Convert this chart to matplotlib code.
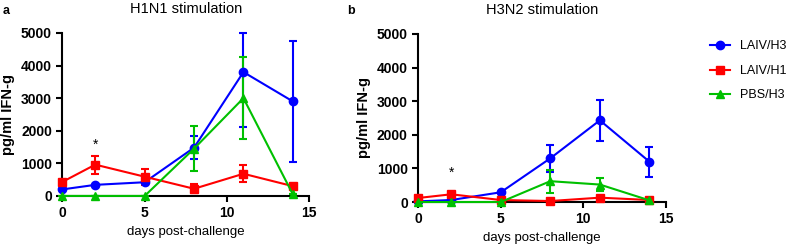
import numpy as np
import matplotlib.pyplot as plt
from matplotlib.lines import Line2D

plt.rcParams['font.family'] = ['Liberation Sans', 'DejaVu Sans']

days = [0, 2, 5, 8, 11, 14]

# panel a: H1N1 stimulation
a_h3 = [200, 340, 420, 1480, 3800, 2900]
a_h3_lo = [200, 340, 420, 1130, 2100, 1050]
a_h3_hi = [200, 340, 420, 1850, 5000, 4750]
a_h1 = [430, 960, 590, 220, 680, 300]
a_h1_lo = [430, 680, 350, 80, 420, 200]
a_h1_hi = [430, 1240, 830, 360, 950, 380]
a_pbs = [0, 0, 0, 1450, 3000, 50]
a_pbs_lo = [0, 0, 0, 760, 1750, 50]
a_pbs_hi = [0, 0, 0, 2150, 4250, 50]

# panel b: H3N2 stimulation
b_h3 = [20, 60, 290, 1300, 2430, 1200]
b_h3_lo = [20, 60, 290, 900, 1820, 750]
b_h3_hi = [20, 60, 290, 1700, 3040, 1650]
b_h1 = [120, 230, 60, 30, 130, 60]
b_h1_lo = [120, 230, 60, 30, 130, 60]
b_h1_hi = [120, 230, 60, 30, 130, 60]
b_pbs = [0, 0, 0, 620, 520, 50]
b_pbs_lo = [0, 0, 0, 270, 320, 50]
b_pbs_hi = [0, 0, 0, 960, 720, 50]

labels = ['LAIV/H3', 'LAIV/H1', 'PBS/H3']
colors = ['#0000ff', '#ff0000', '#00c000']
markers = ['o', 's', '^']

fig = plt.figure(figsize=(7.89, 2.44), dpi=100)
ax_a = fig.add_axes([0.079, 0.197, 0.313, 0.668])
ax_b = fig.add_axes([0.530, 0.172, 0.314, 0.689])

panels = [
    (ax_a, [(a_h3, a_h3_lo, a_h3_hi), (a_h1, a_h1_lo, a_h1_hi), (a_pbs, a_pbs_lo, a_pbs_hi)],
     'H1N1 stimulation', 1350),
    (ax_b, [(b_h3, b_h3_lo, b_h3_hi), (b_h1, b_h1_lo, b_h1_hi), (b_pbs, b_pbs_lo, b_pbs_hi)],
     'H3N2 stimulation', 650),
]

for ax, series, title, star_y in panels:
    for (y, lo, hi), c, m, lab in zip(series, colors, markers, labels):
        y = np.array(y)
        yerr = [y - np.array(lo), np.array(hi) - y]
        h = ax.errorbar(days, y, yerr=yerr, color=c, marker=m, markersize=6,
                        lw=1.5, capsize=3, capthick=1.5, elinewidth=1.5,
                        label=lab, clip_on=False, zorder=3)
        for art in h.lines[1] + h.lines[2]:
            art.set_clip_on(False)
    ax.set_xlim(0, 15)
    ax.set_ylim(0, 5000)
    ax.set_xticks([0, 5, 10, 15])
    ax.set_yticks([0, 1000, 2000, 3000, 4000, 5000])
    ax.spines['top'].set_visible(False)
    ax.spines['right'].set_visible(False)
    ax.spines['left'].set_linewidth(1.5)
    ax.spines['bottom'].set_linewidth(1.5)
    ax.tick_params(width=1.5, length=4, labelsize=10)
    for t in ax.get_xticklabels() + ax.get_yticklabels():
        t.set_fontweight('bold')
    ax.set_ylabel('pg/ml IFN-g', fontsize=10.5, fontweight='bold')
    ax.set_xlabel('days post-challenge', fontsize=9.5)
    ax.text(2, star_y, '*', ha='center', va='bottom', fontsize=10)
    ax.set_title(title, fontsize=10.5, pad=14)

fig.text(0.003, 0.955, 'a', fontsize=9, fontweight='bold', va='center')
fig.text(0.44, 0.955, 'b', fontsize=9, fontweight='bold', va='center')

handles = [Line2D([], [], color=c, marker=m, markersize=6, lw=1.5)
           for c, m in zip(colors, markers)]
fig.legend(handles, labels, loc='upper left', bbox_to_anchor=(0.893, 0.855),
           borderaxespad=0, frameon=False, fontsize=9, handlelength=1.6,
           handletextpad=0.8, labelspacing=1.0)

fig.savefig('out.png', dpi=100)
